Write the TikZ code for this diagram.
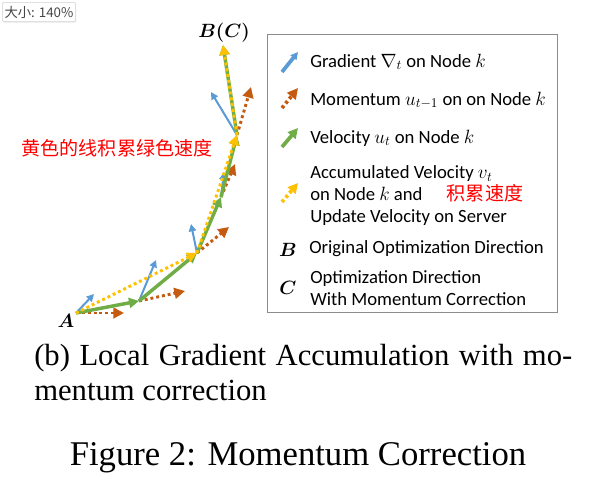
\documentclass[tikz,border=0pt]{standalone}
\usepackage{amsmath}
\usepackage{fontspec}
\setmainfont{Liberation Serif}
\newfontfamily\legfont{Carlito}
\newfontfamily\cjk{Noto Sans CJK SC}
\usetikzlibrary{arrows.meta,shadows}

\definecolor{gradblue}{RGB}{91,155,213}
\definecolor{momorange}{RGB}{197,90,17}
\definecolor{velgreen}{RGB}{112,173,71}
\definecolor{accyellow}{RGB}{255,192,0}
\definecolor{tipgray}{RGB}{70,70,70}

\begin{document}
\begin{tikzpicture}[
    x=0.75pt, y=-0.75pt,
    grad/.style={gradblue, line width=1.5pt,
      -{Triangle[length=5.5pt, width=5.5pt]}},
    mom/.style={momorange, line width=2.2pt, dash pattern=on 2.2pt off 2.2pt,
      -{Triangle[length=8pt, width=8pt]}},
    vel/.style={velgreen, line width=2.6pt,
      -{Triangle[length=7.5pt, width=7.5pt]}},
    acc/.style={accyellow, line width=2.2pt, dash pattern=on 2.2pt off 2.2pt,
      -{Triangle[length=7.5pt, width=7.5pt]}},
    icon/.style={line width=2.8pt},
    ptlab/.style={font=\fontsize{14.5}{16}\selectfont, inner sep=0pt},
    leg/.style={font=\legfont\fontsize{14}{16.5}\selectfont, align=left,
      inner sep=0pt},
    legbox/.style={draw=black!45, line width=0.9pt, minimum width=218pt,
      minimum height=209pt, inner sep=0pt},
    redcjk/.style={font=\cjk\fontsize{14.3}{16}\selectfont, text=red,
      inner sep=0pt},
    subcap/.style={font=\fontsize{23}{26.25}\selectfont, inner sep=0pt},
    tip/.style={draw=black!18, fill=white, rounded corners=1.5pt, text=tipgray,
      font=\cjk\fontsize{10}{12}\selectfont, minimum width=55pt,
      minimum height=14.5pt, inner sep=1pt,
      drop shadow={opacity=0.12, shadow xshift=0.6pt, shadow yshift=-0.9pt}}
  ]
    \useasboundingbox (0,0) rectangle (613,486);

    \node[tip] (zoomtip) at (39,12) {大小: 140\%};

    % path points
    \coordinate (A)  at (76,313);
    \coordinate (P1) at (139,301);
    \coordinate (P2) at (197,253);
    \coordinate (P3) at (221,197);
    \coordinate (P4) at (237,135);
    \coordinate (B)  at (223,45);

    % gradient and momentum ends
    \coordinate (gA)  at (94,294);
    \coordinate (gP1) at (156,260);
    \coordinate (gP2) at (191,224);
    \coordinate (gP3) at (224,172);
    \coordinate (gP4) at (211,92);
    \coordinate (mA)  at (124,313);
    \coordinate (mP1) at (185,291);
    \coordinate (mP2) at (229,227);
    \coordinate (mP3) at (235,164);
    \coordinate (mP4) at (251,87);

    \foreach \p in {A, P1, P2, P3, P4} {
      \draw[mom] (\p) -- (m\p);
      \draw[grad] (\p) -- (g\p);
    }
    \foreach \a/\b in {A/P1, P1/P2, P2/P3, P3/P4, P4/B} {
      \draw[vel] (\a) -- (\b);
    }
    \foreach \a/\b in {A/P2, P2/P4, P4/B} {
      \draw[acc] (\a) -- (\b);
    }

    \node[ptlab] (labA) at (66,321) {$\boldsymbol{A}$};
    \node[ptlab] (labB) at (224,33) {$\boldsymbol{B(C)}$};
    \node[redcjk] (note) at (117,148) {黄色的线积累绿色速度};

    % legend
    \node[legbox] (legend) at (412.5,173.5) {};
    \coordinate (s1) at (282,72);  \coordinate (e1) at (298,52);
    \coordinate (s2) at (282,108); \coordinate (e2) at (298,88);
    \coordinate (s3) at (282,147); \coordinate (e3) at (298,128);
    \coordinate (s4) at (282,202); \coordinate (e4) at (298,183);
    \foreach \s/\n in {grad/1, mom/2, vel/3, acc/4} {
      \draw[\s, icon] (s\n) -- (e\n);
    }
    \node[leg, anchor=base west] (t1) at (310,67)
      {Gradient $\nabla_t$ on Node $k$};
    \node[leg, anchor=base west] (t2) at (310,105)
      {Momentum $u_{t-1}$ on on Node $k$};
    \node[leg, anchor=base west] (t3) at (310,143)
      {Velocity $u_t$ on Node $k$};
    \node[leg, anchor=west] (t4) at (310,196)
      {Accumulated Velocity $v_t$\\on Node $k$ and\\Update Velocity on Server};
    \node[redcjk] (t4cn) at (485,193) {积累速度};
    \node[ptlab] (keyB) at (288,250) {$\boldsymbol{B}$};
    \node[leg, anchor=base west] (t5) at (309,253)
      {Original Optimization Direction};
    \node[ptlab] (keyC) at (288,288) {$\boldsymbol{C}$};
    \node[leg, anchor=west] (t6) at (310,288)
      {Optimization Direction\\With Momentum Correction};

    % captions
    \node[subcap, text width=403.5pt, align=justify, anchor=north west] (sub)
      at (34,344) {(b) Local Gradient Accumulation with mo-\linebreak
      mentum correction};
    \node[font=\fontsize{26}{30}\selectfont, anchor=base] (fig) at (298,465)
      {Figure 2: Momentum Correction};
\end{tikzpicture}
\end{document}
